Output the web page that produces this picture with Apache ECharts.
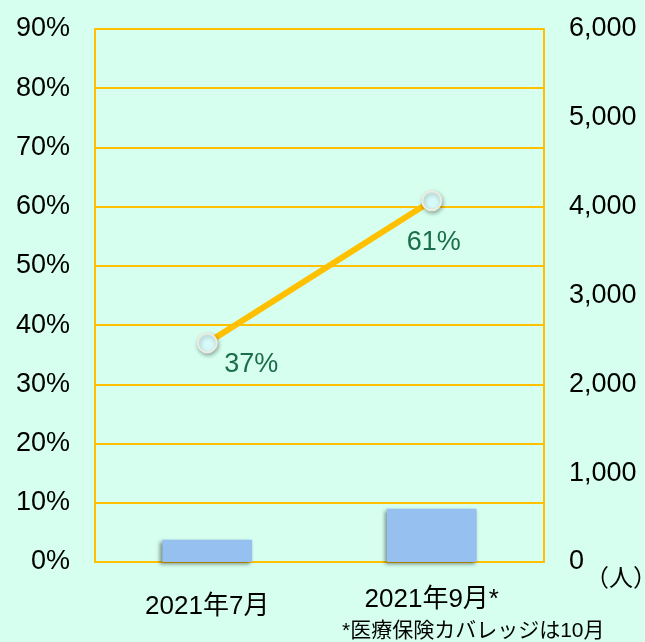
<!DOCTYPE html>
<html>
<head>
<meta charset="utf-8">
<script src="https://cdn.jsdelivr.net/npm/echarts@6/dist/echarts.min.js"></script>
<style>
  html, body { margin: 0; padding: 0; background: #d6fff0; }
  #chart { width: 645px; height: 642px; }
</style>
</head>
<body>
<div id="chart"></div>
<script>
// data
const categories = ['2021年7月', '2021年9月*'];
const rateValues = [37, 61];      // % (left axis, line)
const countValues = [250, 600];   // people (right axis, bars)
const footnote = '*医療保険カバレッジは10月';
const unitLabel = '（人）';

const FONT = '"Liberation Sans", Arial, "Noto Sans CJK JP", sans-serif';
const ORANGE = '#ffc000';

const chart = echarts.init(document.getElementById('chart'));

// label placement for each point of the line
const labelOffsets = [[44, 22], [2, 42]];
// first x label sits a bit lower than the second one
const catPadding = [[7, 0, 0, 0], [0, 0, 0, 0]];

const option = {
    backgroundColor: '#d6fff0',
    textStyle: { fontFamily: FONT },
    grid: { left: 95, right: 101, top: 29, bottom: 80 },
    xAxis: {
        type: 'category',
        data: categories.map((c, i) => ({
            value: c,
            textStyle: { padding: catPadding[i] }
        })),
        axisLine: { lineStyle: { color: ORANGE, width: 2 } },
        axisTick: { show: false },
        axisLabel: { color: '#000', fontSize: 26, margin: 25, fontFamily: FONT }
    },
    yAxis: [
        {
            type: 'value',
            min: 0, max: 90, interval: 10,
            position: 'left',
            axisLine: { show: true, lineStyle: { color: ORANGE, width: 2 } },
            axisTick: { show: false },
            splitLine: { lineStyle: { color: ORANGE, width: 2 } },
            axisLabel: { color: '#000', fontSize: 27, margin: 25, formatter: '{value}%', fontFamily: FONT }
        },
        {
            type: 'value',
            min: 0, max: 6000, interval: 1000,
            position: 'right',
            axisLine: { show: true, lineStyle: { color: ORANGE, width: 2 } },
            axisTick: { show: false },
            splitLine: { show: false },
            axisLabel: {
                color: '#000', fontSize: 27, margin: 25, fontFamily: FONT,
                formatter: v => v.toLocaleString('en-US')
            }
        }
    ],
    series: [
        {
            type: 'bar',
            yAxisIndex: 1,
            data: countValues,
            barWidth: '40%',
            itemStyle: {
                color: '#95c0f0',
                shadowColor: 'rgba(0,0,0,0.45)',
                shadowBlur: 4,
                shadowOffsetX: -2,
                shadowOffsetY: 2
            },
            z: 2
        },
        {
            type: 'line',
            yAxisIndex: 0,
            data: rateValues.map((v, i) => ({
                value: v,
                label: { offset: labelOffsets[i] }
            })),
            lineStyle: { color: ORANGE, width: 6 },
            symbol: 'circle',
            symbolSize: 19,
            itemStyle: {
                color: '#d6fafa',
                borderColor: '#eeecdc',
                borderWidth: 2,
                shadowColor: 'rgba(0,0,0,0.3)',
                shadowBlur: 4,
                shadowOffsetX: 1,
                shadowOffsetY: 2
            },
            label: {
                show: true,
                position: 'inside',
                color: '#1b6e4b',
                fontSize: 27,
                fontFamily: FONT,
                formatter: '{c}%'
            },
            z: 5
        }
    ],
    graphic: [
        {
            type: 'text',
            left: 585, top: 567,
            style: { text: unitLabel, fill: '#000', font: '24px ' + FONT }
        },
        {
            type: 'text',
            left: 342, top: 621,
            style: { text: footnote, fill: '#000', font: '21px ' + FONT }
        }
    ]
};

chart.setOption(option);
</script>
</body>
</html>
